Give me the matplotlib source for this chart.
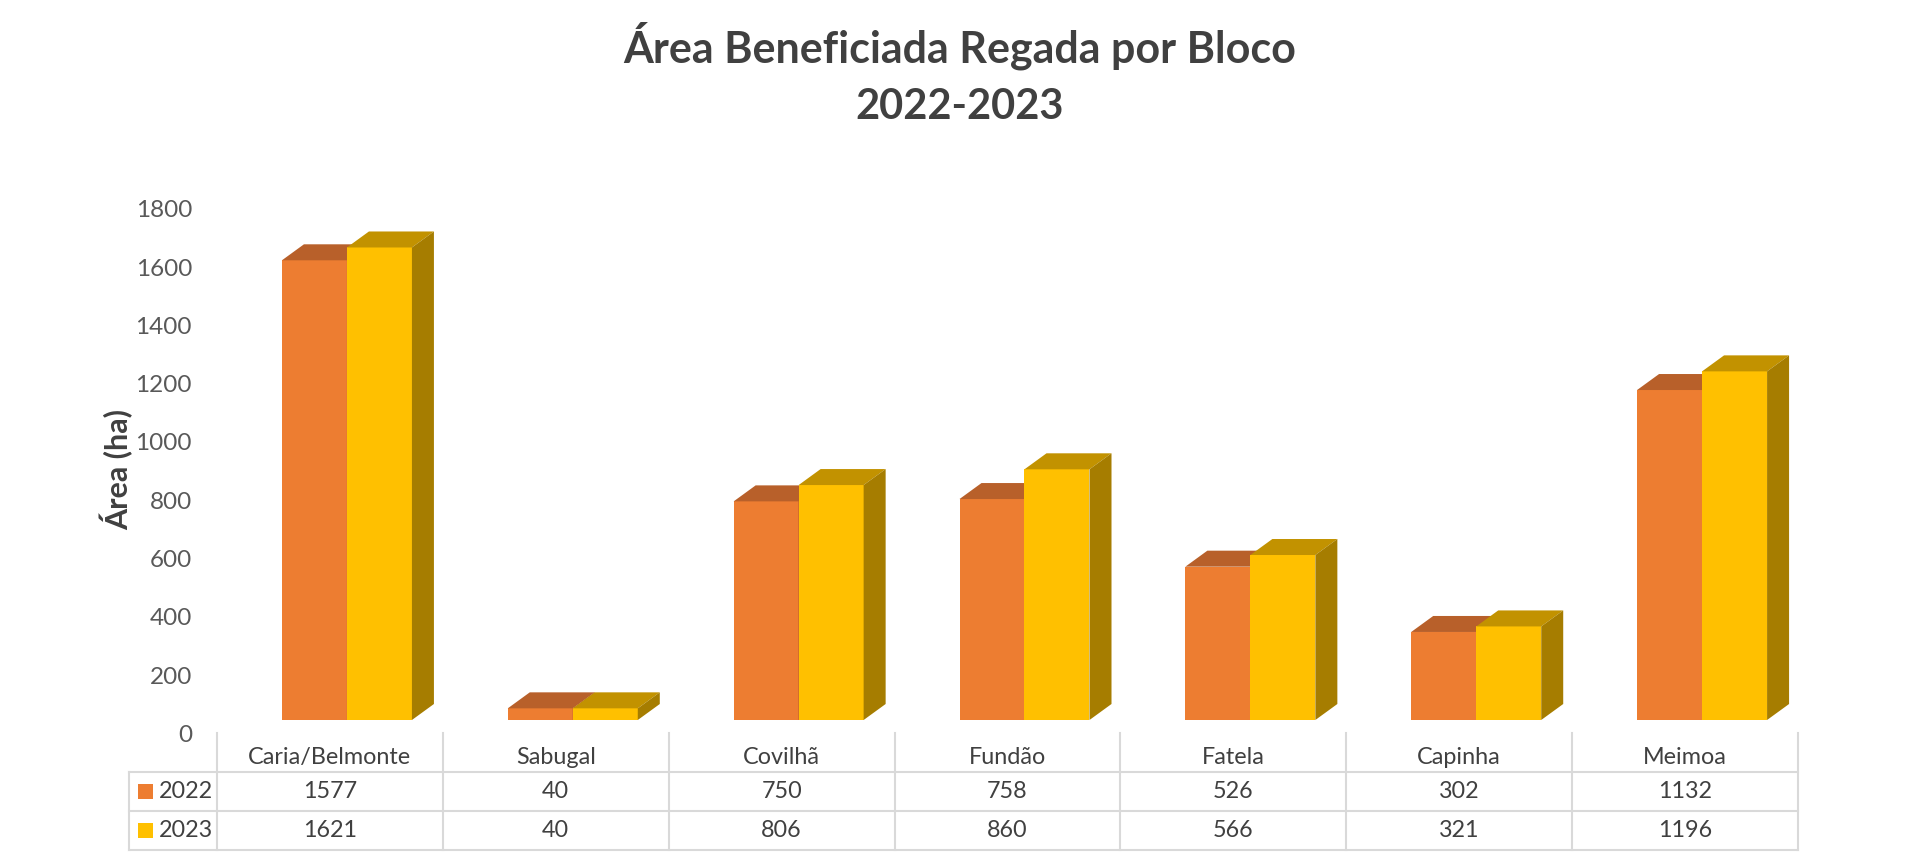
import matplotlib.pyplot as plt
from matplotlib.patches import Polygon, Rectangle

# data
blocos = ["Caria/Belmonte", "Sabugal", "Covilhã", "Fundão", "Fatela", "Capinha", "Meimoa"]
area_2022 = [1577, 40, 750, 758, 526, 302, 1132]
area_2023 = [1621, 40, 806, 860, 566, 321, 1196]
anos = ["2022", "2023"]
yticks = [0, 200, 400, 600, 800, 1000, 1200, 1400, 1600, 1800]

plt.rcParams['font.family'] = ['Lato', 'DejaVu Sans']

W, H = 1920, 867
fig = plt.figure(figsize=(W / 100, H / 100), dpi=100)

# colours: front, top, side
c_or = ("#ED7D31", "#B8602A", "#A85420")
c_ye = ("#FFC000", "#C29200", "#A67D00")

# bar axes (x: one unit per category, y: hectares)
ymin, ymax = -60, 1900
pxu = 0.2915  # pixels per hectare
y0 = 720
top = y0 - ymax * pxu
bot = y0 - ymin * pxu
ax = fig.add_axes([217 / W, (H - bot) / H, 1581 / W, (bot - top) / H])
ax.set_xlim(0, 7)
ax.set_ylim(ymin, ymax)
for s in ax.spines.values():
    s.set_visible(False)
ax.set_xticks([])
off = 13.5 / pxu
ax.set_yticks([t - off for t in yticks])
ax.set_yticklabels([str(t) for t in yticks])
ax.tick_params(axis='y', length=0, pad=18, labelsize=17.5, labelcolor="#595959")

w = 65 / 225.86
shift = 17 / 225.86
dx = 22 / 225.86
dy = 16 / pxu


def bar3d(x, h, cols):
    ax.bar(x, h, width=w, align='edge', color=cols[0], linewidth=0)
    ax.add_patch(Polygon([(x, h), (x + w, h), (x + w + dx, h + dy), (x + dx, h + dy)],
                         closed=True, facecolor=cols[1], linewidth=0))
    ax.add_patch(Polygon([(x + w, 0), (x + w + dx, dy), (x + w + dx, h + dy), (x + w, h)],
                         closed=True, facecolor=cols[2], linewidth=0))


for i in range(len(blocos)):
    c = i + 0.5 + shift
    bar3d(c - w, area_2022[i], c_or)
    bar3d(c, area_2023[i], c_ye)

# titles
fig.text(0.5, 1 - 62 / H, "Área Beneficiada Regada por Bloco", ha='center', va='baseline',
         fontsize=31, fontweight='bold', color="#404040")
fig.text(0.5, 1 - 119 / H, "2022-2023", ha='center', va='baseline',
         fontsize=30, fontweight='bold', color="#404040")
fig.text(117 / W, 1 - 470 / H, "Área (ha)", rotation=90, ha='center', va='center',
         fontsize=22, fontweight='bold', color="#404040")

# data table under the bars
tx0 = -88 / 225.86
tab = fig.add_axes([129 / W, (H - 850) / H, 1669 / W, 117 / H])
tab.set_xlim(tx0, 7)
tab.set_ylim(3, 0)
tab.axis('off')
lc = "#D9D9D9"
for k in range(len(blocos) + 1):
    tab.plot([k, k], [0, 3], color=lc, lw=1.5, clip_on=False)
tab.plot([tx0, tx0], [1, 3], color=lc, lw=1.5, clip_on=False)
for r in (1, 2, 3):
    tab.plot([tx0, 7], [r, r], color=lc, lw=1.5, clip_on=False)

tc = "#404040"
fs = 16.8
for i, b in enumerate(blocos):
    tab.text(i + 0.5, 0.62, b, ha='center', va='center', fontsize=fs, color=tc)
    tab.text(i + 0.5, 1.5, str(area_2022[i]), ha='center', va='center', fontsize=fs, color=tc)
    tab.text(i + 0.5, 2.5, str(area_2023[i]), ha='center', va='center', fontsize=fs, color=tc)

sq = 15 / 225.86
for r, (ano, cols) in enumerate(zip(anos, (c_or, c_ye))):
    tab.add_patch(Rectangle(((138 - 217) / 225.86, 1.5 + r - 0.19), sq, 0.385,
                            facecolor=cols[0], linewidth=0, clip_on=False))
    tab.text((159 - 217) / 225.86, 1.5 + r, ano, ha='left', va='center', fontsize=fs, color=tc)

fig.savefig("out.png", dpi=100, facecolor="white")
